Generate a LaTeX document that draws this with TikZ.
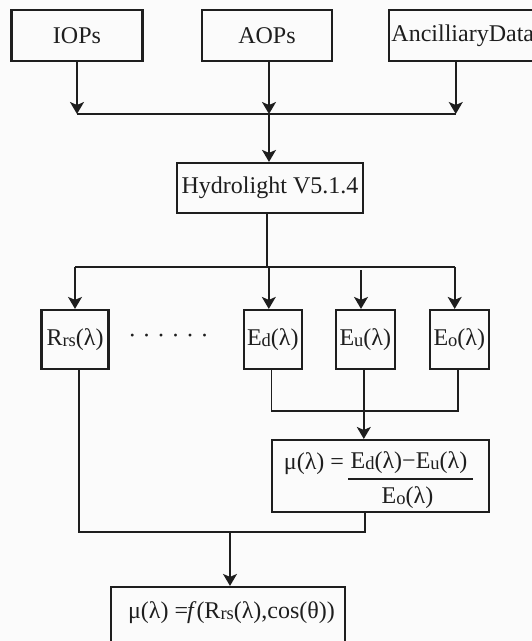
\documentclass[tikz,border=0pt]{standalone}
\usepackage{fontspec}
\setmainfont{Liberation Serif}
\usetikzlibrary{arrows.meta}
\definecolor{ink}{HTML}{1E1E1E}
\definecolor{bg}{HTML}{FBFBFB}
\newcommand{\lowsub}[1]{\raisebox{-1pt}{\fontsize{18.5}{18.5}\selectfont #1}}
\begin{document}
\begin{tikzpicture}[x=1pt,y=-1pt,
  box/.style={draw=ink,line width=2.2pt,inner sep=0pt,text=ink,font=\fontsize{24}{26}\selectfont},
  txt/.style={inner sep=0pt,text=ink,font=\fontsize{24}{26}\selectfont},
  ln/.style={draw=ink,line width=1.6pt},
  arr/.style={draw=ink,line width=1.6pt,-{Stealth[length=12pt,width=14pt,inset=3pt]}}]
\useasboundingbox (0,0) rectangle (532,641);
\fill[bg] (0,0) rectangle (532,641);
\clip (0,0) rectangle (532,641);
% nodes
\node[box,minimum width=131pt,minimum height=51pt] (iops) at (77,35.5) {IOPs};
\node[box,minimum width=130pt,minimum height=51pt] (aops) at (267,35.5) {AOPs};
\node[box,minimum width=147pt,minimum height=51pt] (anc) at (462.75,35.5) {AncilliaryData};
\node[box,minimum width=186pt,minimum height=50pt] (hyd) at (270,188) {Hydrolight V5.1.4};
\node[box,minimum width=67pt,minimum height=58.6pt] (rrs) at (75,339.3) {R\lowsub{rs}(λ)};
\node[txt] (dots) at (168.5,338.5) {·\hspace{6.5pt}·\hspace{6.5pt}·\hspace{6.5pt}·\hspace{6.5pt}·\hspace{6.5pt}·};
\node[box,minimum width=58.4pt,minimum height=58.6pt] (ed) at (272.8,339.3) {E\lowsub{d}(λ)};
\node[box,minimum width=58.6pt,minimum height=58.6pt] (eu) at (365.3,339.3) {E\lowsub{u}(λ)};
\node[box,minimum width=58.6pt,minimum height=58.6pt] (eo) at (459.3,339.3) {E\lowsub{o}(λ)};
\node[box,minimum width=217pt,minimum height=71.7pt] (mu) at (380.5,475.9) {};
\node[txt] (mul) at (314,464) {μ(λ) =};
\node[txt] (num) at (409,463) {E\lowsub{d}(λ)−E\lowsub{u}(λ)};
\coordinate (barl) at (348,479);
\coordinate (barr) at (473,479);
\draw[draw=ink,line width=1.3pt] (barl) -- (barr);
\node[txt] (den) at (407.5,498) {E\lowsub{o}(λ)};
\node[box,minimum width=234pt,minimum height=73pt] (fin) at (228,623.5) {};
\node[txt] (fint) at (231.5,613) {μ(λ) =\kern-1pt\textit{f}(R\lowsub{rs}(λ),cos(θ))};
% connectors top
\coordinate (j1) at (269,114);
\draw[arr] (iops.south) -- (iops.south |- j1);
\draw[arr] ([xshift=2pt]aops.south) -- (j1);
\draw[arr] ([xshift=-7pt]anc.south) -- ([xshift=-7pt]anc.south |- j1);
\draw[ln] (iops.south |- j1) -- ([xshift=-7pt]anc.south |- j1);
\draw[arr] (j1) -- (j1 |- hyd.north);
% hydrolight to outputs
\coordinate (j2) at (267,266.8);
\coordinate (eutop) at (361,270);
\draw[ln] ([xshift=-3pt]hyd.south) -- (j2);
\draw[ln] (rrs.north |- j2) -- ([xshift=-4.6pt]eo.north |- j2);
\draw[arr] (rrs.north |- j2) -- (rrs.north);
\draw[arr] ([xshift=-4pt]ed.north |- j2) -- ([xshift=-4pt]ed.north);
\draw[arr] (eutop) -- (eutop |- eu.north);
\draw[arr] ([xshift=-4.6pt]eo.north |- j2) -- ([xshift=-4.6pt]eo.north);
% E's to mu
\coordinate (j3) at (363.8,411);
\draw[ln] ([xshift=-1.3pt]ed.south) -- ([xshift=-1.3pt]ed.south |- j3) -- ([xshift=-1.3pt]eo.south |- j3) -- ([xshift=-1.3pt]eo.south);
\draw[ln] ([xshift=-1.5pt]eu.south) -- ([xshift=-1.5pt]eu.south |- j3);
\draw[arr] (j3) -- (j3 |- mu.north);
% to final
\coordinate (j4) at (230,532);
\draw[ln] ([xshift=3.7pt]rrs.south) -- ([xshift=3.7pt]rrs.south |- j4) -- ([xshift=-15.5pt]mu.south |- j4) -- ([xshift=-15.5pt]mu.south);
\draw[arr] (j4) -- (j4 |- fin.north);
\end{tikzpicture}
\end{document}
